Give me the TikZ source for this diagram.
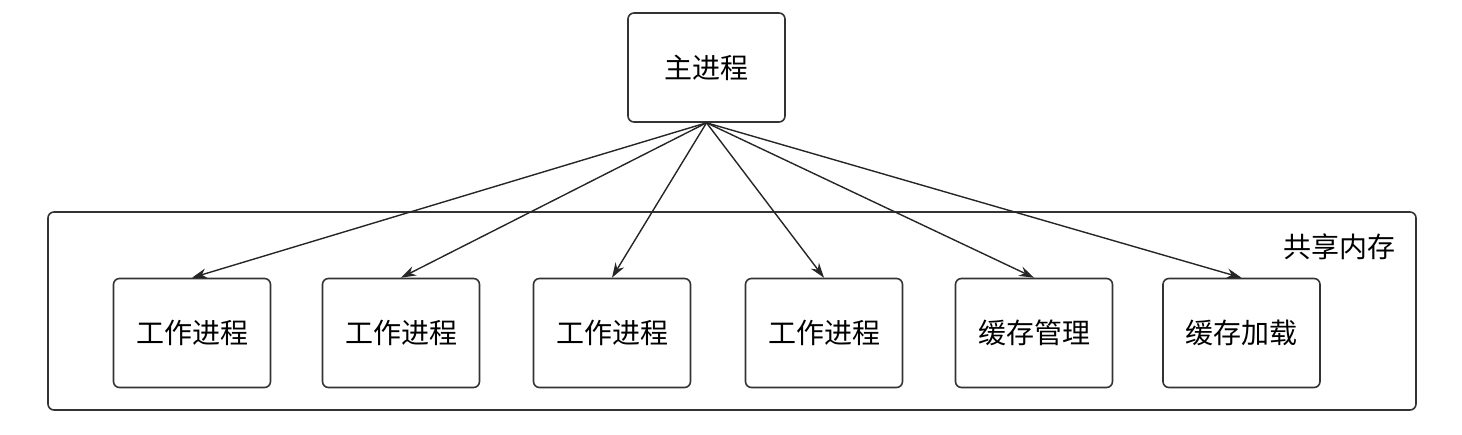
\documentclass[tikz,border=0pt]{standalone}
\usepackage{fontspec}
\setmainfont{Noto Sans CJK SC}
\usetikzlibrary{arrows.meta}
\begin{document}
\begin{tikzpicture}[x=1pt,y=-1pt,
  box/.style={draw=black!80,line width=1.6pt,rounded corners=6pt,minimum width=157pt,minimum height=109pt,inner sep=0pt,font=\fontsize{28}{32}\selectfont},
  conn/.style={line width=1.4pt,draw=black!85,-{Stealth[length=15pt,width=10pt]}}]
\useasboundingbox (0,0) rectangle (1462,434);
\node[draw=black!80,line width=1.6pt,rounded corners=6pt,minimum width=1368pt,minimum height=198pt,inner sep=0pt] (shm) at (732,311) {};
\node[anchor=east,font=\fontsize{28}{32}\selectfont,inner sep=0pt] (shmlabel) at (1396,247) {共享内存};
\node[box] (main) at (706.5,67.5) {主进程};
\node[box] (w1) at (192,333) {工作进程};
\node[box] (w2) at (401,333) {工作进程};
\node[box] (w3) at (612,333) {工作进程};
\node[box] (w4) at (824,333) {工作进程};
\node[box] (cm) at (1034,333) {缓存管理};
\node[box] (cl) at (1241.5,333) {缓存加载};
\foreach \t in {w1,w2,w3,w4,cm,cl}{
  \draw[conn] (main.south) -- (\t.north);
}
\end{tikzpicture}
\end{document}
